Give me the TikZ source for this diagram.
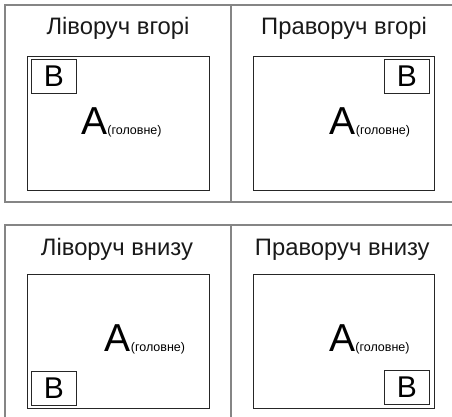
\documentclass[tikz,border=0pt]{standalone}
\usepackage{fontspec}
\setmainfont{Liberation Sans}
\newfontfamily\gill{Liberation Sans}
\begin{document}
\begin{tikzpicture}[x=1pt,y=-1pt,
  frame/.style={draw=black!48,line width=1.4pt},
  screen/.style={draw=black!85,line width=0.9pt,minimum width=181.5pt,minimum height=134.5pt,inner sep=0pt,outer sep=0pt},
  pipbox/.style={draw=black!85,line width=0.9pt,minimum width=45.5pt,minimum height=34pt,inner sep=0pt,outer sep=0pt,font=\gill\fontsize{30}{30}\selectfont,text=black},
  title/.style={anchor=base,inner sep=0pt,font=\fontsize{23.8}{24}\selectfont,text=black!90},
  mainlbl/.style={anchor=base,inner sep=0pt,font=\gill\fontsize{39}{40}\selectfont,text=black}
]
\useasboundingbox (0,0) rectangle (452,417);
% frames
\draw[frame] (452,5) -- (5,5) -- (5,202) -- (452,202);
\draw[frame] (231,5) -- (231,202);
\draw[frame] (452,225) -- (5,225) -- (5,417);
\draw[frame] (231,225) -- (231,417);
% titles
\node[title] (t1) at (118,34.3) {Ліворуч вгорі};
\node[title] (t2) at (344,34.3) {Праворуч вгорі};
\node[title] (t3) at (117,255) {Ліворуч внизу};
\node[title] (t4) at (342.3,255) {Праворуч внизу};
% screens
\node[screen] (s1) at (118.2,123.4) {};
\node[screen] (s2) at (343.7,123.4) {};
\node[screen] (s3) at (118.2,341.5) {};
\node[screen] (s4) at (343.7,341.5) {};
% PIP boxes
\node[pipbox] (b1) at (53.9,76.3) {B};
\node[pipbox] (b2) at (406.8,76.3) {B};
\node[pipbox] (b3) at (53.9,388) {B};
\node[pipbox] (b4) at (406.8,387.5) {B};
% main labels
\node[mainlbl] (a1) at (121.5,134) {A{\fontsize{12.5}{14}\selectfont(головне)}};
\node[mainlbl] (a2) at (370,134.3) {A{\fontsize{12.5}{14}\selectfont(головне)}};
\node[mainlbl] (a3) at (145,351.7) {A{\fontsize{12.5}{14}\selectfont(головне)}};
\node[mainlbl] (a4) at (369.5,351.7) {A{\fontsize{12.5}{14}\selectfont(головне)}};
\end{tikzpicture}
\end{document}
